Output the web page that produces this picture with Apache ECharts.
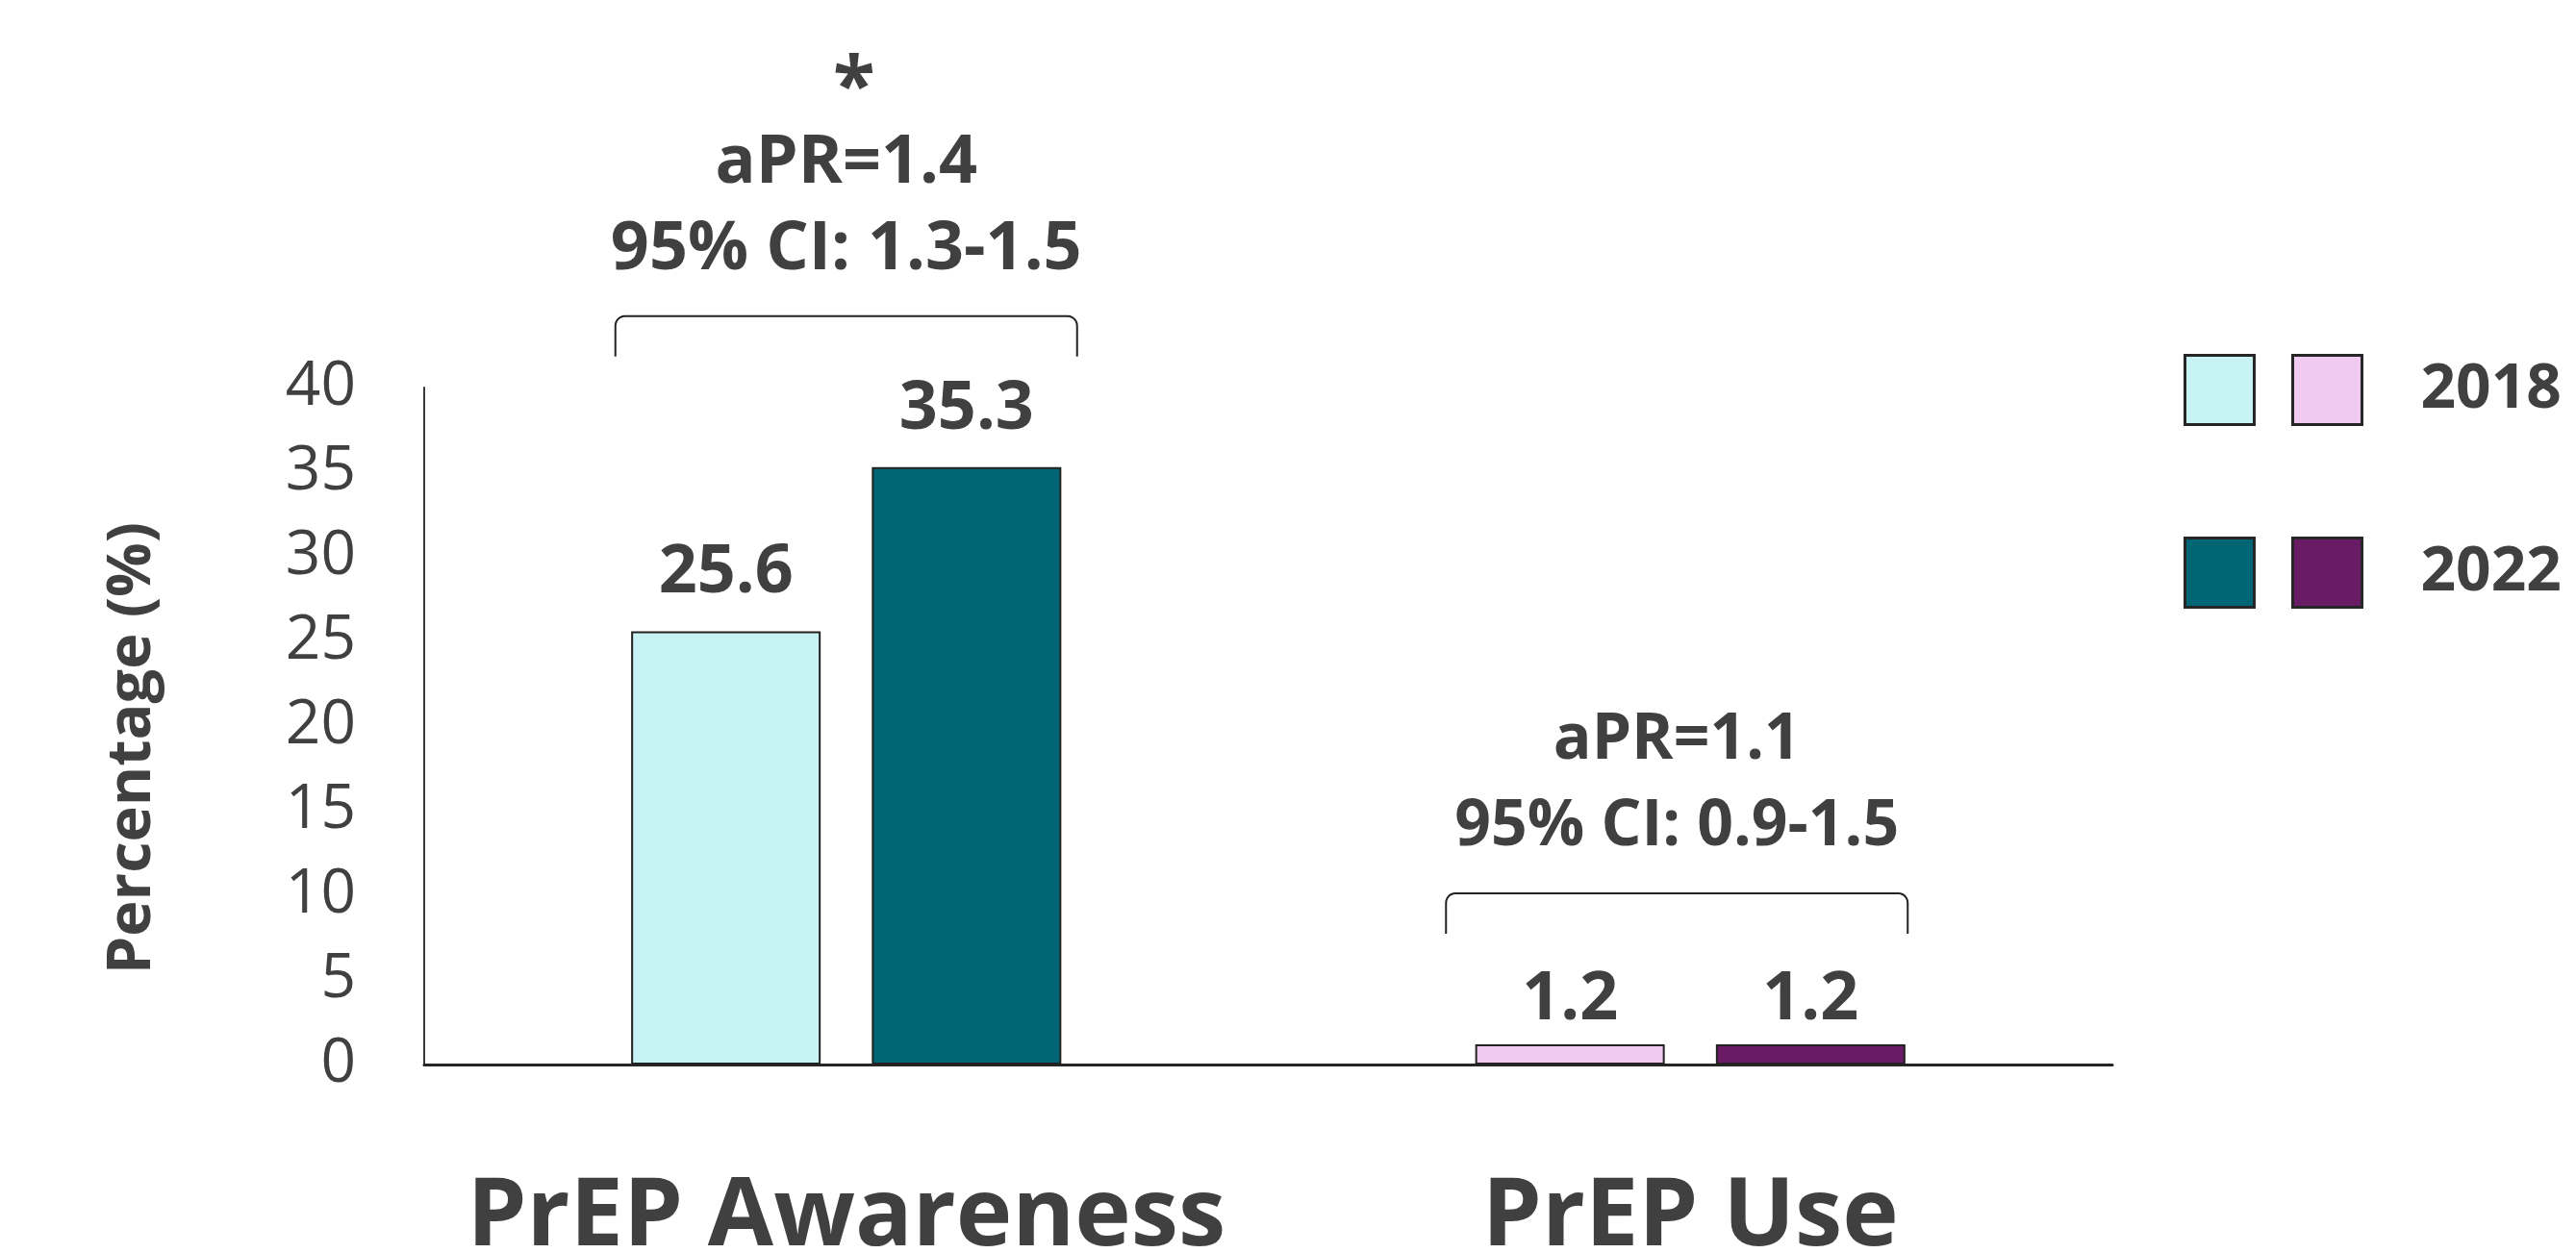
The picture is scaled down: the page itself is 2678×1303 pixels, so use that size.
<!DOCTYPE html>
<html>
<head>
<meta charset="utf-8">
<script src="https://cdn.jsdelivr.net/npm/echarts/dist/echarts.min.js"></script>
<style>
  html, body { margin: 0; padding: 0; background: #ffffff; }
  #chart { width: 2678px; height: 1303px; }
</style>
</head>
<body>
<div id="chart"></div>
<script>
// ---- data ----
const categories = ['PrEP Awareness', 'PrEP Use'];
const values2018 = [25.6, 1.2];
const values2022 = [35.3, 1.2];
const yearLabels = ['2018', '2022'];
const sigMarks = ['*', ''];
const aprLabels = ['aPR=1.4', 'aPR=1.1'];
const ciLabels = ['95% CI: 1.3-1.5', '95% CI: 0.9-1.5'];

// ---- styling ----
const TEXT = '#404040';
const EDGE = '#222222';
const FONT = 'Open Sans';
const colors = {
  aw2018: '#C8F3F5', aw2022: '#006675',
  use2018: '#F0CAF0', use2022: '#691B65'
};
// value-label gap above the bars, per outcome
const labelGap = [25, 11];

// One series per (outcome, year); outcomes of the same year share a stack slot
const seriesDefs = [
  { name: 'PrEP Awareness 2018', stack: 'y2018', cat: 0, values: values2018, color: colors.aw2018, row: 0, col: 0 },
  { name: 'PrEP Use 2018',       stack: 'y2018', cat: 1, values: values2018, color: colors.use2018, row: 0, col: 1 },
  { name: 'PrEP Awareness 2022', stack: 'y2022', cat: 0, values: values2022, color: colors.aw2022, row: 1, col: 0 },
  { name: 'PrEP Use 2022',       stack: 'y2022', cat: 1, values: values2022, color: colors.use2022, row: 1, col: 1 }
];

const chart = echarts.init(document.getElementById('chart'), null, { renderer: 'canvas' });

const series = seriesDefs.map(s => ({
  name: s.name,
  type: 'bar',
  stack: s.stack,
  barWidth: 197,
  barGap: '27%',
  data: categories.map((c, i) => (i === s.cat ? s.values[i] : '-')),
  itemStyle: { color: s.color, borderColor: EDGE, borderWidth: 2 },
  label: {
    show: true,
    position: 'top',
    distance: labelGap[s.cat],
    color: TEXT,
    fontFamily: FONT,
    fontWeight: 'bold',
    fontSize: 70,
    formatter: p => String(p.value)
  },
  emphasis: { disabled: true }
}));

// Legend: two swatches per year row, year text after the second swatch
const legends = seriesDefs.map(s => ({
  data: [s.name],
  left: s.col === 0 ? 2270 : 2382,
  top: s.row === 0 ? 368 : 558,
  padding: 0,
  orient: 'horizontal',
  icon: 'rect',
  itemWidth: 72,
  itemHeight: 72,
  selectedMode: false,
  itemStyle: { borderColor: '#262626', borderWidth: 3 },
  formatter: () => (s.col === 1 ? yearLabels[s.row] : ''),
  textStyle: {
    color: TEXT, fontFamily: FONT, fontWeight: 'bold', fontSize: 64,
    padding: [0, 0, 0, 56]
  }
}));

chart.setOption({
  animation: false,
  backgroundColor: '#ffffff',
  grid: { left: 441, right: 482, top: 403, bottom: 196, containLabel: false, outerBoundsMode: 'none' },
  legend: legends,
  xAxis: {
    type: 'category',
    data: categories,
    axisLine: { show: true, lineStyle: { color: '#262626', width: 3 } },
    axisTick: { show: false },
    axisLabel: {
      interval: 0,
      color: TEXT, fontFamily: FONT, fontWeight: 'bold', fontSize: 99, margin: 110
    }
  },
  yAxis: {
    type: 'value',
    min: 0,
    max: 40,
    interval: 5,
    name: 'Percentage (%)',
    nameLocation: 'middle',
    nameRotate: 90,
    nameGap: 271,
    nameTextStyle: {
      color: TEXT, fontFamily: FONT, fontWeight: 'bold', fontSize: 63,
      padding: [0, 46, 0, 0]
    },
    axisLine: { show: true, lineStyle: { color: '#3a3a3a', width: 2 } },
    axisTick: { show: false },
    splitLine: { show: false },
    axisLabel: { color: TEXT, fontFamily: FONT, fontSize: 64, margin: 71 }
  },
  series: series
});

// ---- significance annotations above each category ----
// vertical offsets (px) measured from the top of the taller bar in the pair
const NOTE = {
  shiftX: [0, -14],
  fontSize: [70, 66],
  bracketHalf: 240,
  bracketBottom: -115,
  bracketTop: -157,
  corner: 10,
  ci: -226,
  apr: -316,
  star: -393,
  starShift: 8
};

// bracket outline: two legs joined by a top bar with rounded corners
function bracketPoints(x0, x1, yTop, yBottom, r) {
  const pts = [[x0, yBottom]];
  const steps = 6;
  for (let k = 0; k <= steps; k++) {
    const a = Math.PI - (Math.PI / 2) * (k / steps);
    pts.push([x0 + r + r * Math.cos(a), yTop + r - r * Math.sin(a)]);
  }
  for (let k = 0; k <= steps; k++) {
    const a = Math.PI / 2 - (Math.PI / 2) * (k / steps);
    pts.push([x1 - r + r * Math.cos(a), yTop + r - r * Math.sin(a)]);
  }
  pts.push([x1, yBottom]);
  return pts;
}

const graphics = [];
categories.forEach((cat, i) => {
  const top = Math.max(values2018[i], values2022[i]);
  const pt = chart.convertToPixel({ gridIndex: 0 }, [cat, top]);
  const cx = pt[0] + NOTE.shiftX[i];
  const by = pt[1];
  const fs = NOTE.fontSize[i];
  graphics.push({
    type: 'polyline',
    shape: {
      points: bracketPoints(cx - NOTE.bracketHalf, cx + NOTE.bracketHalf,
        by + NOTE.bracketTop, by + NOTE.bracketBottom, NOTE.corner)
    },
    style: { fill: null, stroke: EDGE, lineWidth: 2 },
    silent: true
  });
  const textStyle = (txt, size) => ({
    text: txt, fill: TEXT, font: 'bold ' + size + 'px "' + FONT + '"',
    align: 'center', verticalAlign: 'middle'
  });
  graphics.push({ type: 'text', x: cx, y: by + NOTE.ci, style: textStyle(ciLabels[i], fs), silent: true });
  graphics.push({ type: 'text', x: cx, y: by + NOTE.apr, style: textStyle(aprLabels[i], fs), silent: true });
  if (sigMarks[i]) {
    graphics.push({ type: 'text', x: cx + NOTE.starShift, y: by + NOTE.star, style: textStyle(sigMarks[i], 80), silent: true });
  }
});

chart.setOption({ graphic: graphics });
</script>
</body>
</html>
